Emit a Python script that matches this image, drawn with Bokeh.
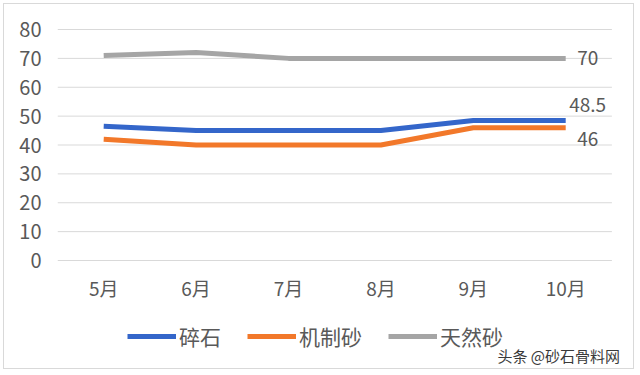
from bokeh.plotting import figure
from bokeh.models import ColumnDataSource, FixedTicker, Legend, LegendItem, Label
from bokeh.embed import file_html
from bokeh.resources import INLINE
from bokeh.core.properties import value

months = ["5月", "6月", "7月", "8月", "9月", "10月"]
crushed_stone = [46.5, 45, 45, 45, 48.5, 48.5]   # 碎石
machine_sand = [42, 40, 40, 40, 46, 46]           # 机制砂
natural_sand = [71, 72, 70, 70, 70, 70]           # 天然砂
series_names = ["碎石", "机制砂", "天然砂"]
y_ticks = [0, 10, 20, 30, 40, 50, 60, 70, 80]
watermark = "头条 @砂石骨料网"

FONT = "Noto Sans CJK SC"
TXT = "#595959"
colors = ["#3466CA", "#F2782A", "#A5A5A5"]

W, H = 631, 366
LEFT = 53                      # frame left edge (px)
ZERO_PX, TOP_PX = 256, 25      # screen rows of y=0 and y=80
CAT_PX = 92.4                  # width of one month slot
PX_PER_UNIT = (ZERO_PX - TOP_PX) / (y_ticks[-1] - y_ticks[0])
y_lo = y_ticks[0] - (H - ZERO_PX) / PX_PER_UNIT
y_hi = y_ticks[-1] + TOP_PX / PX_PER_UNIT
x_lo = -0.5
x_hi = x_lo + (W - LEFT) / CAT_PX

xs = list(range(len(months)))

p = figure(x_range=(x_lo, x_hi), y_range=(y_lo, y_hi), width=W, height=H,
           output_backend="svg", toolbar_location=None,
           min_border_left=LEFT, min_border_right=0, min_border_top=0,
           min_border_bottom=0)
p.styles = {"margin": "3px 0 0 3px", "border": "1px solid #D9D9D9"}
p.outline_line_color = None
p.background_fill_color = "white"
p.border_fill_color = "white"

p.xgrid.grid_line_color = None
p.ygrid.grid_line_color = None
p.xaxis.visible = False

# horizontal gridlines spanning the month slots only
p.segment(x0=[xs[0] - 0.5] * len(y_ticks), x1=[xs[-1] + 0.5] * len(y_ticks),
          y0=y_ticks, y1=y_ticks, line_color="#D9D9D9", line_width=1)

ax = p.yaxis
ax.ticker = FixedTicker(ticks=y_ticks)
ax.axis_line_color = None
ax.major_tick_line_color = None
ax.minor_tick_line_color = None
ax.major_tick_out = 0
ax.major_tick_in = 0
ax.major_label_text_font = FONT
ax.major_label_text_font_size = "20px"
ax.major_label_text_color = TXT
ax.major_label_standoff = 16

# month labels under the 0 line
msrc = ColumnDataSource(dict(x=xs, y=[y_ticks[0]] * len(months), t=months))
p.text("x", "y", text="t", source=msrc, y_offset=27,
       text_align="center", text_baseline="middle",
       text_font=value(FONT), text_font_size="19px", text_color=TXT)

src = ColumnDataSource(dict(x=xs, a=crushed_stone, b=machine_sand, c=natural_sand))
renderers = []
for col, color in zip(["a", "b", "c"], colors):
    r = p.line("x", col, source=src, line_color=color, line_width=5,
               line_join="round", line_cap="butt")
    renderers.append(r)

# end-of-line data labels
lab_src = ColumnDataSource(dict(
    x=[xs[-1]] * 3,
    y=[natural_sand[-1], crushed_stone[-1], machine_sand[-1]],
    t=[f"{natural_sand[-1]:g}", f"{crushed_stone[-1]:g}", f"{machine_sand[-1]:g}"],
    yo=[0, -15, 11],
))
p.text("x", "y", text="t", source=lab_src, x_offset=22, y_offset="yo",
       text_align="center", text_baseline="middle",
       text_font=value(FONT), text_font_size="19px", text_color=TXT)

legend = Legend(items=[LegendItem(label=n, renderers=[r]) for n, r in zip(series_names, renderers)],
                orientation="horizontal", location=(70, 19),
                glyph_width=49, glyph_height=24, label_standoff=3, spacing=26,
                label_text_font=FONT, label_text_font_size="21px",
                label_text_color=TXT, border_line_color=None,
                background_fill_alpha=0, margin=0, padding=4)
p.add_layout(legend)

wm = Label(x=440, y=15, x_units="screen", y_units="screen", text=watermark,
           text_baseline="middle",
           text_font=FONT, text_font_size="15px", text_color="#3A3A3A")
p.add_layout(wm)

open("out.html", "w").write(file_html(p, INLINE))
